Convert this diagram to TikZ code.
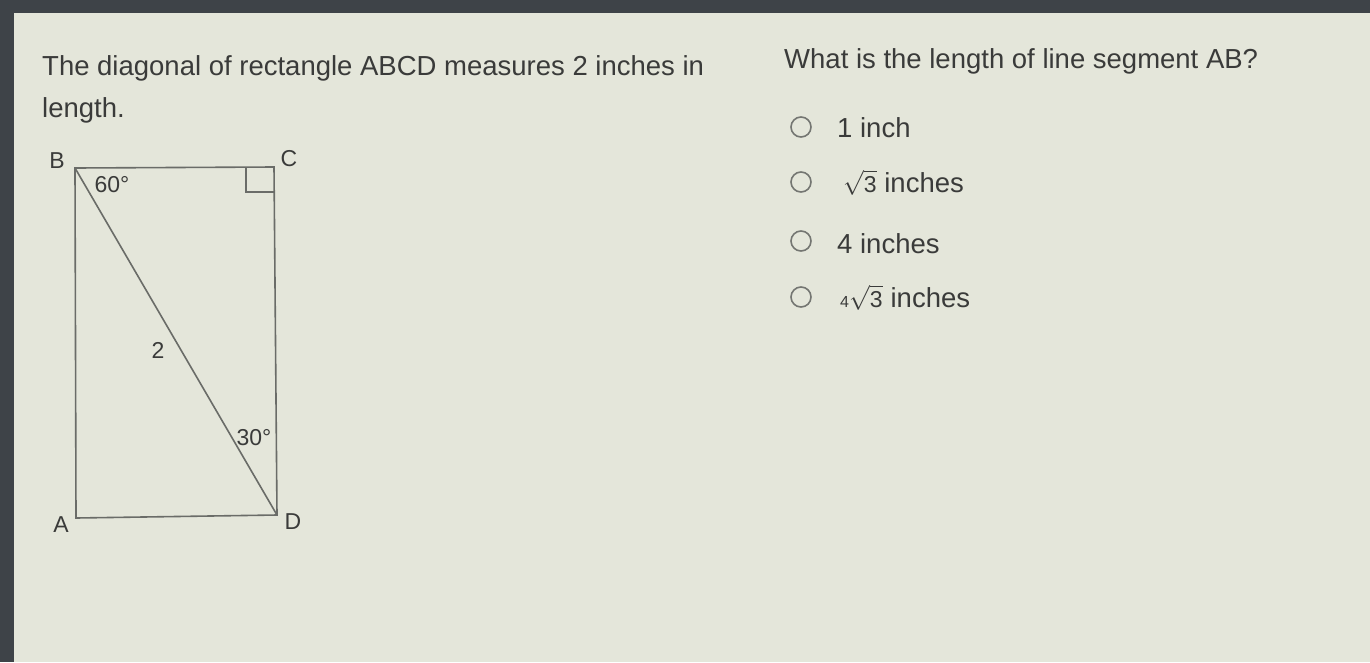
\documentclass[tikz,border=0pt]{standalone}
\usepackage{amsmath}
\usepackage{fontspec}
\setmainfont{Liberation Sans}
\begin{document}
\begin{tikzpicture}[x=1pt,y=-1pt,
  txt/.style={anchor=base west,inner sep=0pt,text=ink,font=\fontsize{27.5}{32}\selectfont},
  lbl/.style={inner sep=0pt,text=ink,font=\fontsize{23}{26}\selectfont},
  edge/.style={draw=linec,line width=1.6pt},
  radio/.style={draw=radioc,line width=1.6pt,circle,minimum size=20pt,inner sep=0pt}]
\definecolor{ink}{HTML}{3A3B3A}
\definecolor{linec}{HTML}{6A6C68}
\definecolor{radioc}{HTML}{747672}
\definecolor{bgc}{HTML}{E4E6DA}
\definecolor{framec}{HTML}{3E4348}
\useasboundingbox (0,0) rectangle (1370,662);
\fill[framec] (0,0) rectangle (1370,662);
\fill[bgc] (14,13) rectangle (1370,662);
% question text
\node[txt] (q1) at (42,75) {The diagonal of rectangle ABCD measures 2 inches in};
\node[txt] (q2) at (42,117) {length.};
\node[txt] (q3) at (784,68) {What is the length of line segment AB?};
% rectangle
\coordinate (B) at (75,168);
\coordinate (C) at (274,167);
\coordinate (D) at (277,515);
\coordinate (A) at (76,518);
\draw[edge] (B) -- (C) -- (D) -- (A) -- cycle;
\draw[edge] (B) -- (D);
\draw[edge] (246,167) -- (246,192) -- (275,192);
\node[lbl] (lB) at (57,161) {B};
\node[lbl] (lC) at (289,159) {C};
\node[lbl] (lA) at (61,525) {A};
\node[lbl] (lD) at (293,522) {D};
\node[lbl] (a60) at (112,185) {60°};
\node[lbl] (l2) at (158,350) {2};
\node[lbl] (a30) at (254,438) {30°};
% options
\node[radio] (r1) at (801,127) {};
\node[radio] (r2) at (801,182) {};
\node[radio] (r3) at (801,241) {};
\node[radio] (r4) at (801,297) {};
\node[txt] (o1) at (837,137) {1 inch};
\node[txt] (o2) at (843,192) {{\fontsize{23}{24}\selectfont$\sqrt{\text{3}}$} inches};
\node[txt] (o3) at (837,253) {4 inches};
\node[txt] (o4) at (840,307) {{\fontsize{16}{18}\selectfont 4}{\fontsize{23}{24}\selectfont$\sqrt{\text{3}}$}\hspace{8pt}inches};
\end{tikzpicture}
\end{document}
